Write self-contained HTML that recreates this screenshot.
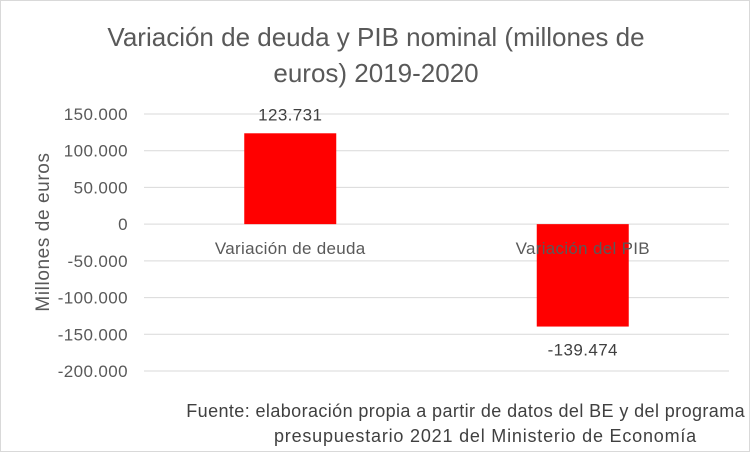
<!DOCTYPE html>
<html><head><meta charset="utf-8"><style>
body{margin:0;background:#fff;}
#c{position:relative;width:752px;height:452px;overflow:hidden;font-family:"Liberation Sans",Arial,sans-serif;color:#595959;}
</style></head><body>
<div id="c">
<div style="position:absolute;left:0;top:0;width:748px;height:450px;border:1px solid #d9d9d9;"></div>
<div style="position:absolute;left:40px;top:19px;width:672px;text-align:center;font-size:26px;line-height:36px;color:#595959;">Variación de deuda y PIB nominal (millones de<br>euros) 2019-2020</div>
<svg width="752" height="452" style="position:absolute;left:0;top:0" id="svg"></svg>
<div style="position:absolute;left:150px;top:399px;width:600px;font-size:18px;line-height:25px;color:#404040;letter-spacing:0.4px;">
<div style="position:absolute;right:5px;top:0;white-space:nowrap">Fuente: elaboración propia a partir de datos del BE y del programa</div>
<div style="position:absolute;right:53px;top:25px;white-space:nowrap;letter-spacing:0.8px">presupuestario 2021 del Ministerio de Economía</div>
</div>
</div>
<script>
const categories=["Variación de deuda","Variación del PIB"];
const values=[123731,-139474];
const valueLabels=["123.731","-139.474"];
const ticks=[150000,100000,50000,0,-50000,-100000,-150000,-200000];
const tickLabels=["150.000","100.000","50.000","0","-50.000","-100.000","-150.000","-200.000"];
const NS="http://www.w3.org/2000/svg";
const svg=document.getElementById('svg');
const x0=144,x1=729,yTop=114,yBot=371,vMax=150000,vMin=-200000;
function y(v){return yTop+(vMax-v)/(vMax-vMin)*(yBot-yTop);}
const band=(x1-x0)/categories.length;
function xc(i){return x0+band*(i+0.5);}
function mk(t,a){const e=document.createElementNS(NS,t);for(const k in a)e.setAttribute(k,a[k]);svg.appendChild(e);return e;}
ticks.forEach((t,i)=>{
 const l=mk('line',{x1:x0,x2:x1,y1:y(t),y2:y(t),stroke:'#d9d9d9','stroke-width':1});
 
 
 const tx=mk('text',{x:128,y:y(t)+6,'text-anchor':'end','font-size':17,'letter-spacing':0.4,fill:'#595959','font-family':'Liberation Sans, sans-serif'});
 tx.textContent=tickLabels[i];
 
 
});
const bw=92;
values.forEach((v,i)=>{
 const top=Math.min(y(v),y(0)),h=Math.abs(y(v)-y(0));
 const r=mk('rect',{x:xc(i)-bw/2,y:top,width:bw,height:h,fill:'#ff0000'});
 
 
 const ly=v>=0?y(v)-13:y(v)+29;
 const t=mk('text',{x:xc(i),y:ly,'text-anchor':'middle','font-size':17,'letter-spacing':0.4,fill:'#404040','font-family':'Liberation Sans, sans-serif'});
 t.textContent=valueLabels[i];
 
 
});
categories.forEach((c,i)=>{
 const t=mk('text',{x:xc(i),y:y(0)+30,'text-anchor':'middle','font-size':17,'letter-spacing':0.3,fill:'#595959','font-family':'Liberation Sans, sans-serif'});
 t.textContent=c;
 
 
});
const at=mk('text',{x:0,y:0,'text-anchor':'middle','font-size':19,'letter-spacing':0.6,fill:'#595959','font-family':'Liberation Sans, sans-serif',transform:'translate(49,232) rotate(-90)'});
at.textContent='Millones de euros';


</script>
</body></html>
